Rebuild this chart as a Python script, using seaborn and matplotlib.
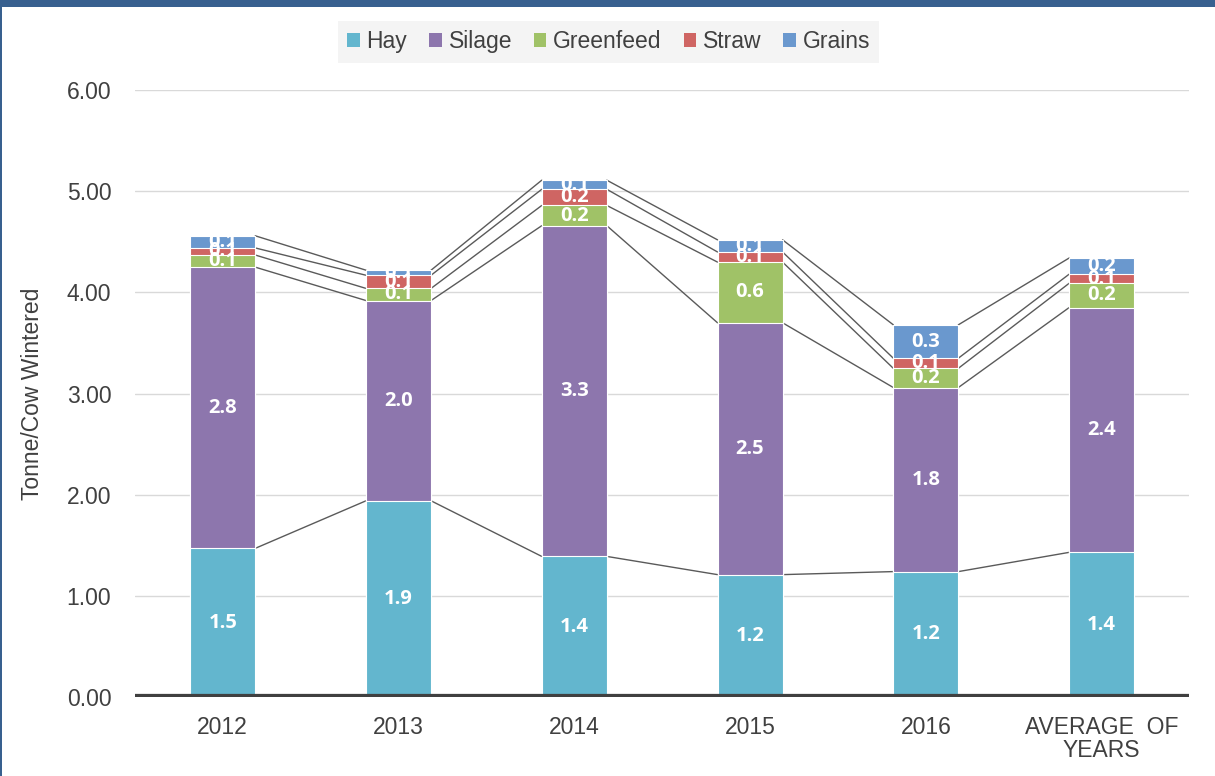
import numpy as np
import pandas as pd
import matplotlib
matplotlib.use("Agg")
import matplotlib.pyplot as plt
from matplotlib.patches import Patch, Rectangle
import seaborn as sns

# Data (tonne per cow wintered)
years = ["2012", "2013", "2014", "2015", "2016", "AVERAGE  OF\nYEARS"]
hay = [1.47, 1.94, 1.39, 1.21, 1.24, 1.43]
silage = [2.78, 1.98, 3.27, 2.49, 1.82, 2.42]
greenfeed = [0.12, 0.12, 0.20, 0.60, 0.19, 0.24]
straw = [0.07, 0.13, 0.16, 0.10, 0.10, 0.09]
grains = [0.12, 0.05, 0.09, 0.12, 0.33, 0.16]

series_names = ["Hay", "Silage", "Greenfeed", "Straw", "Grains"]
colors = ["#63B6CE", "#8D76AD", "#A0C267", "#CF6563", "#6A98CE"]

sns.set_style("white")
plt.rcParams["font.family"] = ["Liberation Sans", "DejaVu Sans"]

df = pd.DataFrame({"year": years, "Hay": hay, "Silage": silage,
                   "Greenfeed": greenfeed, "Straw": straw, "Grains": grains})
values = df[series_names].to_numpy()
tops = values.cumsum(axis=1)
bottoms = tops - values
for i, name in enumerate(series_names):
    df["cum_" + name] = tops[:, i]

fig = plt.figure(figsize=(12.15, 7.76), dpi=100)
ax = fig.add_axes([0.111, 0.1018, 0.868, 0.782])

bar_w = 0.37
# draw cumulative bars from the top layer down so each layer covers the one above
for i in range(len(series_names) - 1, -1, -1):
    sns.barplot(data=df, x="year", y="cum_" + series_names[i], color=colors[i],
                saturation=1, width=bar_w, edgecolor="white", linewidth=0.8,
                ax=ax, zorder=3)

# series lines between bars
for i in range(len(series_names)):
    for j in range(len(years) - 1):
        ax.plot([j + bar_w / 2, j + 1 - bar_w / 2], [tops[j, i], tops[j + 1, i]],
                color="#5A5A5A", lw=1, zorder=2)

# data labels
for j in range(len(years)):
    for i in range(len(series_names)):
        ax.text(j, (bottoms[j, i] + tops[j, i]) / 2, f"{values[j, i]:.1f}",
                ha="center", va="center", color="white", fontsize=14.5,
                fontweight="bold", family=["Open Sans", "DejaVu Sans"], zorder=5)

ax.set_ylim(0, 6)
ax.set_xlim(-0.5, len(years) - 0.5)
ax.set_yticks(np.arange(0, 6.01, 1))
ax.set_yticklabels([f"{v:.2f}" for v in np.arange(0, 6.01, 1)])
ax.yaxis.grid(True, color="#D9D9D9", lw=1, zorder=0)
ax.set_axisbelow(True)
for s in ax.spines.values():
    s.set_visible(False)
ax.axhline(0, color="#404040", lw=4.5, zorder=4)
ax.tick_params(axis="both", length=0, labelsize=16.5, labelcolor="#404040")
ax.tick_params(axis="x", pad=14)
ax.tick_params(axis="y", pad=17)
for t in ax.get_xticklabels():
    t.set_linespacing(1.0)
ax.set_xlabel("")
ax.set_ylabel("Tonne/Cow Wintered", fontsize=16.5, color="#404040", labelpad=16)

handles = [Patch(facecolor=c, edgecolor="none") for c in colors]
leg = fig.legend(handles, series_names, loc="center", bbox_to_anchor=(0.501, 0.946),
                 ncol=5, frameon=True, fontsize=16.5, handlelength=0.55,
                 handleheight=0.55, handletextpad=0.3, columnspacing=0.95,
                 borderpad=0.4)
leg.get_frame().set_facecolor("#F2F2F2")
leg.get_frame().set_edgecolor("none")
leg.get_frame().set_boxstyle("square", pad=0)
for t in leg.get_texts():
    t.set_color("#404040")

# frame around the chart area
fig.add_artist(Rectangle((0, 0.991), 1, 0.009, transform=fig.transFigure,
                         facecolor="#38608F", edgecolor="none"))
fig.add_artist(Rectangle((0, 0), 0.002, 1, transform=fig.transFigure,
                         facecolor="#38608F", edgecolor="none"))

fig.savefig("out.png", dpi=100)
